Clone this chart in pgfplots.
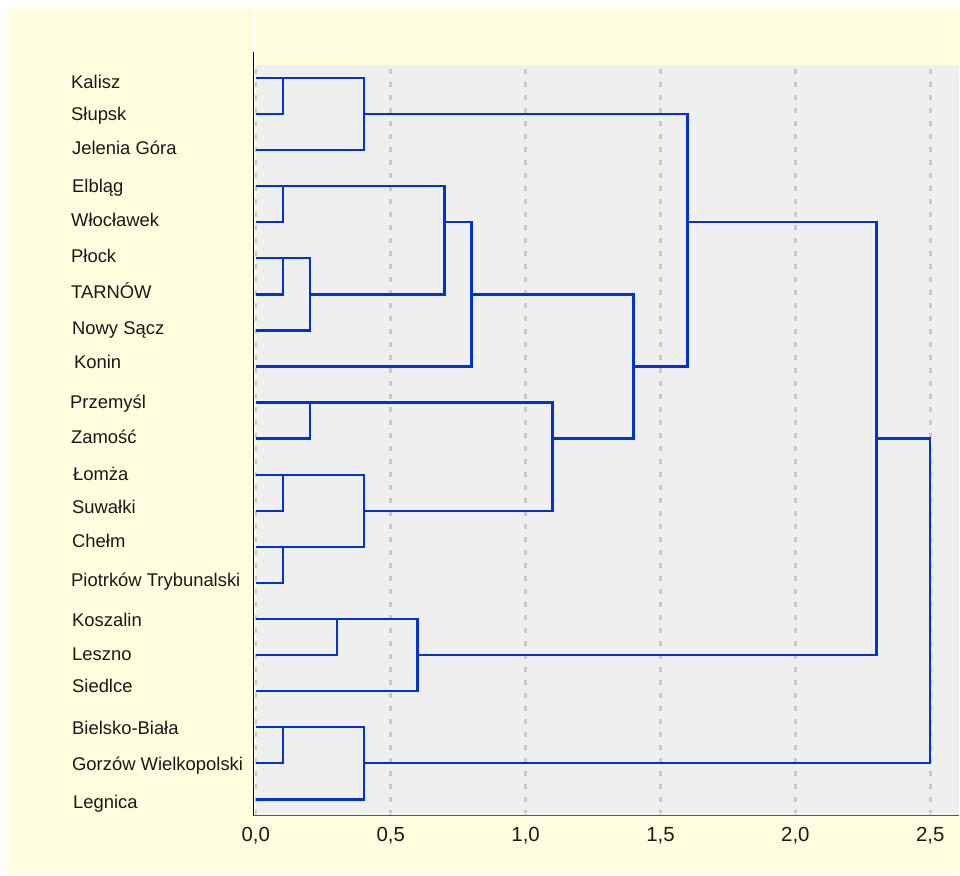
\documentclass[border=0pt]{standalone}
\usepackage{fontspec}
\setmainfont{Liberation Sans}
\usepackage{pgfplots}
\pgfplotsset{compat=1.18}
\definecolor{cream}{RGB}{255,253,222}
\definecolor{plotbg}{RGB}{239,239,239}
\definecolor{dblue}{RGB}{0,51,210}
\definecolor{gridc}{RGB}{200,200,200}
\definecolor{axgray}{RGB}{90,90,80}
\pgfplotsset{dend/.style={dblue, solid, line width=2.4bp, line join=miter, line cap=rect, mark=none}}
\begin{document}
\begin{tikzpicture}
\begin{scope}[x=1bp,y=-1bp]
\fill[white] (0,0) rectangle (960,876);
\fill[cream] (7,8) rectangle (960,876);
\end{scope}
\begin{axis}[at={(256bp,-815.5bp)}, anchor=south west, scale only axis,
  width=704bp, height=750.5bp,
  xmin=0, xmax=2.6074, ymin=-0.43, ymax=20.36,
  axis background/.style={fill=plotbg},
  axis line style={draw=none},
  xtick={0,0.5,1,1.5,2,2.5},
  xticklabels={{0,0},{0,5},{1,0},{1,5},{2,0},{2,5}},
  ytick=\empty, major tick length=0pt,
  xmajorgrids,
  grid style={gridc, line width=2.6bp, dash pattern=on 5bp off 8bp},
  xticklabel style={font=\fontsize{20.5}{24}\selectfont, anchor=base, yshift=-26.5bp, inner sep=0pt, text=black!90},
  clip=true]
% Kalisz-Slupsk 0.1
\addplot[dend] coordinates {(0,20) (0.1,20) (0.1,19) (0,19)};
% + Jelenia Gora 0.4
\addplot[dend] coordinates {(0.1,20) (0.4,20) (0.4,18) (0,18)};
% Elblag-Wloclawek 0.1
\addplot[dend] coordinates {(0,17) (0.1,17) (0.1,16) (0,16)};
% Plock-Tarnow 0.1
\addplot[dend] coordinates {(0,15) (0.1,15) (0.1,14) (0,14)};
% + Nowy Sacz 0.2
\addplot[dend] coordinates {(0.1,15) (0.2,15) (0.2,13) (0,13)};
% EW + PTN 0.7
\addplot[dend] coordinates {(0.1,17) (0.7,17) (0.7,14) (0.2,14)};
% + Konin 0.8
\addplot[dend] coordinates {(0.7,16) (0.8,16) (0.8,12) (0,12)};
% Przemysl-Zamosc 0.2
\addplot[dend] coordinates {(0,11) (0.2,11) (0.2,10) (0,10)};
% Lomza-Suwalki 0.1
\addplot[dend] coordinates {(0,9) (0.1,9) (0.1,8) (0,8)};
% Chelm-Piotrkow 0.1
\addplot[dend] coordinates {(0,7) (0.1,7) (0.1,6) (0,6)};
% LS + CP 0.4
\addplot[dend] coordinates {(0.1,9) (0.4,9) (0.4,7) (0.1,7)};
% PZ + LSCP 1.1
\addplot[dend] coordinates {(0.2,11) (1.1,11) (1.1,8) (0.4,8)};
% 1.4
\addplot[dend] coordinates {(0.8,14) (1.4,14) (1.4,10) (1.1,10)};
% 1.6
\addplot[dend] coordinates {(0.4,19) (1.6,19) (1.6,12) (1.4,12)};
% Koszalin-Leszno 0.3
\addplot[dend] coordinates {(0,5) (0.3,5) (0.3,4) (0,4)};
% + Siedlce 0.6
\addplot[dend] coordinates {(0.3,5) (0.6,5) (0.6,3) (0,3)};
% Bielsko-Gorzow 0.1
\addplot[dend] coordinates {(0,2) (0.1,2) (0.1,1) (0,1)};
% + Legnica 0.4
\addplot[dend] coordinates {(0.1,2) (0.4,2) (0.4,0) (0,0)};
% 2.3
\addplot[dend] coordinates {(1.6,16) (2.3,16) (2.3,4) (0.6,4)};
% 2.5
\addplot[dend] coordinates {(2.3,10) (2.5,10) (2.5,1) (0.4,1)};
\end{axis}
\begin{scope}[x=1bp,y=-1bp]
\draw[white, line width=1.5bp] (255,8) -- (255,65);
\draw[white, line width=1bp] (256,814.3) -- (960,814.3);
\draw[axgray, line width=1.5bp] (254,816) -- (960,816);
\draw[black, line width=1.3bp] (254,52) -- (254,816.5);
\begin{scope}[every node/.style={anchor=base west, inner sep=0pt, font=\fontsize{18.5}{21}\selectfont, text=black!90}]
\node at (71,88.4) {Kalisz};
\node at (71,120.4) {Słupsk};
\node at (72,154.4) {Jelenia Góra};
\node at (72,192.4) {Elbląg};
\node at (71,226.4) {Włocławek};
\node at (71,263.1) {Płock};
\node at (71,299.1) {TARNÓW};
\node at (72,334.4) {Nowy Sącz};
\node at (74,368.4) {Konin};
\node at (70,408.4) {Przemyśl};
\node at (71,443.4) {Zamość};
\node at (73,481.1) {Łomża};
\node at (72,513.4) {Suwałki};
\node at (72,548.1) {Chełm};
\node at (71,587.1) {Piotrków Trybunalski};
\node at (72,627.1) {Koszalin};
\node at (72,660.9) {Leszno};
\node at (72,693) {Siedlce};
\node at (72,735.1) {Bielsko-Biała};
\node at (72,771.4) {Gorzów Wielkopolski};
\node at (73,809.4) {Legnica};
\end{scope}
\end{scope}
\end{tikzpicture}
\end{document}
